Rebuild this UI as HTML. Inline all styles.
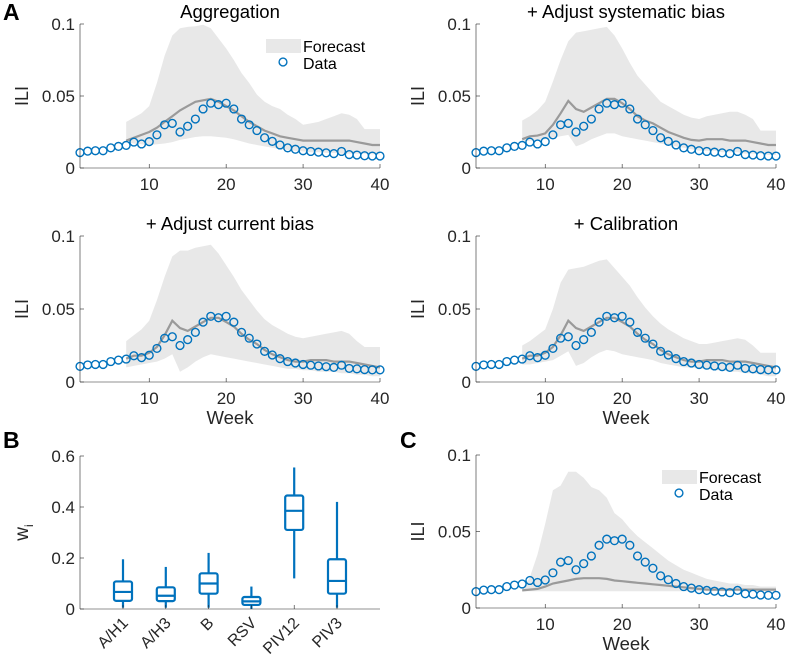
<!DOCTYPE html>
<html><head><meta charset="utf-8"><style>
html,body{margin:0;padding:0;background:#fff;}
svg{display:block;font-family:"Liberation Sans",Arial,sans-serif;}
</style></head><body>
<svg id="fig" width="786" height="661" viewBox="0 0 786 661"></svg>
<script>
const weeks = Array.from({length:40},(_,i)=>i+1);
const dataILI = [0.0107,0.0117,0.012,0.012,0.014,0.015,0.0157,0.018,0.0167,0.0183,0.023,0.030,0.031,0.025,0.029,0.034,0.041,0.045,0.044,0.045,0.041,0.034,0.030,0.026,0.021,0.0185,0.016,0.014,0.013,0.012,0.0115,0.011,0.0105,0.010,0.0115,0.0093,0.009,0.0085,0.0083,0.0083];
const fcWeeks = Array.from({length:34},(_,i)=>i+7);
// Aggregation
const aggMean = [0.019,0.021,0.023,0.025,0.028,0.032,0.036,0.040,0.043,0.046,0.047,0.048,0.046,0.043,0.040,0.036,0.032,0.029,0.026,0.024,0.022,0.021,0.020,0.019,0.019,0.019,0.019,0.019,0.019,0.019,0.018,0.017,0.016,0.016];
const aggUp = [0.032,0.035,0.038,0.043,0.059,0.078,0.092,0.097,0.098,0.0985,0.0995,0.097,0.090,0.083,0.075,0.066,0.059,0.051,0.046,0.043,0.041,0.037,0.034,0.030,0.031,0.032,0.034,0.036,0.038,0.037,0.034,0.027,0.027,0.027];
const aggLo = [0.018,0.017,0.0165,0.016,0.0165,0.017,0.018,0.0195,0.0205,0.0215,0.022,0.022,0.0215,0.021,0.02,0.0185,0.017,0.016,0.015,0.014,0.013,0.0126,0.012,0.0115,0.011,0.011,0.0105,0.0105,0.010,0.010,0.010,0.010,0.0095,0.0095];
// Systematic bias
const sysMean = [0.020,0.022,0.0225,0.024,0.030,0.038,0.0466,0.041,0.039,0.042,0.045,0.048,0.048,0.045,0.041,0.036,0.033,0.031,0.028,0.025,0.023,0.021,0.0195,0.019,0.020,0.020,0.020,0.019,0.019,0.019,0.018,0.017,0.016,0.016];
const sysUp = [0.033,0.036,0.040,0.046,0.060,0.075,0.088,0.094,0.095,0.096,0.097,0.098,0.092,0.083,0.073,0.064,0.058,0.052,0.046,0.043,0.040,0.037,0.035,0.034,0.036,0.037,0.038,0.039,0.039,0.037,0.034,0.026,0.026,0.026];
const sysLo = [0.018,0.019,0.019,0.020,0.021,0.022,0.023,0.015,0.017,0.020,0.022,0.024,0.024,0.022,0.021,0.020,0.019,0.018,0.017,0.016,0.015,0.014,0.013,0.012,0.012,0.012,0.011,0.011,0.011,0.010,0.010,0.010,0.009,0.009];
// Current bias
const curMean = [0.016,0.018,0.018,0.020,0.024,0.032,0.042,0.037,0.035,0.038,0.041,0.044,0.044,0.041,0.038,0.033,0.029,0.026,0.022,0.019,0.017,0.015,0.014,0.014,0.015,0.015,0.015,0.014,0.014,0.014,0.013,0.012,0.011,0.010];
const curUp = [0.028,0.032,0.036,0.042,0.056,0.072,0.086,0.090,0.090,0.092,0.093,0.094,0.088,0.080,0.072,0.063,0.056,0.049,0.043,0.039,0.036,0.033,0.031,0.030,0.031,0.032,0.033,0.034,0.035,0.033,0.028,0.024,0.024,0.024];
const curLo = [0.010,0.011,0.012,0.013,0.014,0.016,0.019,0.007,0.010,0.014,0.017,0.019,0.018,0.017,0.016,0.015,0.014,0.013,0.012,0.011,0.010,0.009,0.009,0.008,0.008,0.007,0.007,0.007,0.006,0.006,0.005,0.005,0.004,0.004];
// Calibration
const calMean = [0.016,0.018,0.018,0.020,0.024,0.032,0.042,0.037,0.035,0.038,0.041,0.044,0.044,0.041,0.038,0.033,0.029,0.026,0.022,0.019,0.017,0.015,0.014,0.014,0.015,0.015,0.015,0.014,0.014,0.014,0.013,0.012,0.011,0.010];
const calUp = [0.025,0.028,0.032,0.036,0.050,0.068,0.077,0.078,0.079,0.081,0.083,0.084,0.078,0.072,0.066,0.058,0.051,0.045,0.040,0.036,0.033,0.030,0.028,0.026,0.026,0.027,0.028,0.029,0.030,0.029,0.025,0.020,0.020,0.020];
const calLo = [0.012,0.012,0.013,0.014,0.015,0.018,0.021,0.011,0.013,0.017,0.020,0.022,0.021,0.019,0.018,0.017,0.016,0.015,0.013,0.012,0.011,0.010,0.010,0.009,0.009,0.008,0.008,0.007,0.007,0.006,0.006,0.005,0.004,0.004];
// Panel C
const cMean = [0.0115,0.012,0.0125,0.014,0.016,0.017,0.018,0.019,0.0195,0.0195,0.0195,0.019,0.018,0.0175,0.017,0.0165,0.016,0.0155,0.015,0.0145,0.014,0.0135,0.013,0.0125,0.012,0.012,0.012,0.012,0.012,0.012,0.012,0.012,0.012,0.012];
const cUp = [0.012,0.020,0.035,0.055,0.077,0.080,0.089,0.089,0.085,0.079,0.077,0.072,0.062,0.058,0.052,0.047,0.043,0.039,0.035,0.031,0.028,0.025,0.023,0.021,0.019,0.018,0.017,0.016,0.016,0.015,0.015,0.014,0.014,0.014];
const cLo = [0.011,0.011,0.011,0.011,0.011,0.011,0.011,0.011,0.011,0.011,0.011,0.011,0.011,0.011,0.011,0.011,0.011,0.011,0.011,0.011,0.011,0.011,0.011,0.011,0.011,0.011,0.011,0.011,0.011,0.011,0.011,0.011,0.011,0.011];
const xTicks = [10,20,30,40];
const yTicks = [0,0.05,0.1];
const yTickLabels = ["0","0.05","0.1"];
// Panel B
const boxCats = ["A/H1","A/H3","B","RSV","PIV12","PIV3"];
const boxMin = [0.005,0.005,0.005,0.0,0.12,0.005];
const boxQ1 = [0.032,0.031,0.06,0.016,0.31,0.06];
const boxMed = [0.067,0.052,0.10,0.03,0.385,0.11];
const boxQ3 = [0.108,0.085,0.14,0.047,0.445,0.195];
const boxMax = [0.195,0.165,0.22,0.088,0.555,0.42];
const wTicks = [0,0.2,0.4,0.6];
const wTickLabels = ["0","0.2","0.4","0.6"];

const NS="http://www.w3.org/2000/svg";
const svg=document.getElementById('fig');
function el(tag,attrs,parent,text){const e=document.createElementNS(NS,tag);for(const k in attrs)e.setAttribute(k,attrs[k]);if(text!==undefined)e.textContent=text;(parent||svg).appendChild(e);return e;}
const BLUE="#0072BD", AX="#262626";
const TICK=17;

function linePanel(name,x0,x1,yTop,yBot,title,mean,up,lo,showWeek,legend){
  const g=el('g',{});
  
  
  const sx=w=>x0+(w-1)*(x1-x0)/39;
  const sy=v=>yBot-v*(yBot-yTop)/0.1;
  let d='';
  fcWeeks.forEach((w,i)=>{d+=(i?'L':'M')+sx(w).toFixed(1)+','+sy(up[i]).toFixed(1);});
  for(let i=fcWeeks.length-1;i>=0;i--)d+='L'+sx(fcWeeks[i]).toFixed(1)+','+sy(lo[i]).toFixed(1);
  const band=el('path',{d:d+'Z',fill:'#e8e8e8',stroke:'none'},g);
  
  
  let m='';
  fcWeeks.forEach((w,i)=>{m+=(i?'L':'M')+sx(w).toFixed(1)+','+sy(mean[i]).toFixed(1);});
  const ml=el('path',{d:m,fill:'none',stroke:'#9a9a9a','stroke-width':2.2},g);
  
  
  weeks.forEach((w,i)=>{
    const c=el('circle',{cx:sx(w),cy:sy(dataILI[i]),r:3.9,fill:'none',stroke:BLUE,'stroke-width':1.4},g);
    
    
  });
  el('line',{x1:x0,y1:yTop,x2:x0,y2:yBot,stroke:AX,'stroke-width':0.6},g);
  el('line',{x1:x0,y1:yBot,x2:x1,y2:yBot,stroke:AX,'stroke-width':0.6},g);
  yTicks.forEach((t,i)=>{
    el('line',{x1:x0,y1:sy(t),x2:x0+4,y2:sy(t),stroke:AX,'stroke-width':0.6},g);
    const tl=el('text',{x:x0-5,y:sy(t)+6,'text-anchor':'end','font-size':TICK,fill:'#262626'},g,yTickLabels[i]);
    
    
  });
  xTicks.forEach(t=>{
    el('line',{x1:sx(t),y1:yBot,x2:sx(t),y2:yBot-4,stroke:AX,'stroke-width':0.6},g);
    const tl=el('text',{x:sx(t),y:yBot+22,'text-anchor':'middle','font-size':TICK,fill:'#262626'},g,String(t));
    
    
  });
  const yl=el('text',{x:0,y:0,transform:`translate(${x0-52},${sy(0.05)}) rotate(-90)`,'text-anchor':'middle','font-size':18,fill:'#262626'},g,'ILI');
  
  
  if(title){
    const tt=el('text',{x:(x0+x1)/2,y:yTop-6,'text-anchor':'middle','font-size':18.5,fill:'#000'},g,title);
    
    
  }
  if(showWeek){
    const wl=el('text',{x:(x0+x1)/2,y:yBot+42,'text-anchor':'middle','font-size':18.5,fill:'#262626'},g,'Week');
    
    
  }
  if(legend){
    const lg=el('g',{},g);
    
    
    const lx=x0+186, ly=yTop+15;
    el('rect',{x:lx,y:ly,width:35,height:14,fill:'#e8e8e8'},lg);
    el('text',{x:lx+37,y:ly+13,'font-size':16,fill:'#000'},lg,'Forecast');
    el('circle',{cx:lx+17,cy:ly+23,r:3.9,fill:'none',stroke:BLUE,'stroke-width':1.4},lg);
    el('text',{x:lx+37,y:ly+30,'font-size':16,fill:'#000'},lg,'Data');
  }
}

linePanel('panel-aggregation',80,380,24,168,'Aggregation',aggMean,aggUp,aggLo,false,true);
linePanel('panel-systematic-bias',476,776,24,168,'+ Adjust systematic bias',sysMean,sysUp,sysLo,false,false);
linePanel('panel-current-bias',80,380,236,382,'+ Adjust current bias',curMean,curUp,curLo,true,false);
linePanel('panel-calibration',476,776,236,382,'+ Calibration',calMean,calUp,calLo,true,false);
linePanel('panel-c',476,776,455,608,null,cMean,cUp,cLo,true,true);

(function(){
  const g=el('g',{});
  
  
  const x0=80,x1=380,yTop=456,yBot=609;
  const sy=v=>yBot-v*(yBot-yTop)/0.6;
  const sx=i=>123+i*42.8;
  el('line',{x1:x0,y1:yTop,x2:x0,y2:yBot,stroke:AX,'stroke-width':0.6},g);
  el('line',{x1:x0,y1:yBot,x2:x1,y2:yBot,stroke:AX,'stroke-width':0.6},g);
  wTicks.forEach((t,i)=>{
    el('line',{x1:x0,y1:sy(t),x2:x0+4,y2:sy(t),stroke:AX,'stroke-width':0.6},g);
    const tl=el('text',{x:x0-5,y:sy(t)+6,'text-anchor':'end','font-size':TICK,fill:'#262626'},g,wTickLabels[i]);
    
    
  });
  const yl=el('text',{x:0,y:0,transform:`translate(${x0-52},${sy(0.3)}) rotate(-90)`,'text-anchor':'middle','font-size':19,fill:'#262626'},g);
  
  
  el('tspan',{},yl,'w');
  el('tspan',{'font-size':12,dy:5},yl,'i');
  boxCats.forEach((c,i)=>{
    const x=sx(i), bw=9;
    const bg=el('g',{},g);
    
    
    el('line',{x1:x,y1:sy(boxMax[i]),x2:x,y2:sy(boxQ3[i]),stroke:BLUE,'stroke-width':2.2},bg);
    el('line',{x1:x,y1:sy(boxQ1[i]),x2:x,y2:sy(boxMin[i]),stroke:BLUE,'stroke-width':2.2},bg);
    el('rect',{x:x-bw,y:sy(boxQ3[i]),width:2*bw,height:sy(boxQ1[i])-sy(boxQ3[i]),rx:2,fill:'none',stroke:BLUE,'stroke-width':2.2},bg);
    el('line',{x1:x-bw,y1:sy(boxMed[i]),x2:x+bw,y2:sy(boxMed[i]),stroke:BLUE,'stroke-width':2.2},bg);
    el('line',{x1:x,y1:yBot,x2:x,y2:yBot-4,stroke:AX,'stroke-width':0.6},g);
    const tl=el('text',{x:0,y:0,transform:`translate(${x+6},${yBot+15}) rotate(-45)`,'text-anchor':'end','font-size':16,fill:'#262626'},g,c);
    
    
  });
})();

[['A',3,20],['B',3,448],['C',400,448]].forEach(([t,x,y])=>{
  const e=el('text',{x:x,y:y,'font-size':23,'font-weight':'bold',fill:'#000'},svg,t);
  
  
});
</script>
</body></html>
